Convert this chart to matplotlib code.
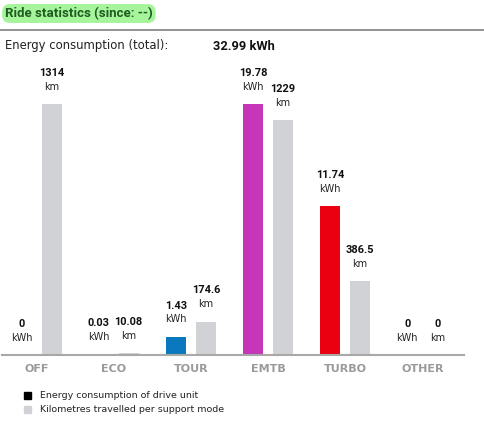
import matplotlib
matplotlib.use("Agg")
import matplotlib.pyplot as plt
from matplotlib.patches import Rectangle

categories = ["OFF", "ECO", "TOUR", "EMTB", "TURBO", "OTHER"]
energy_kwh = [0, 0.03, 1.43, 19.78, 11.74, 0]
distance_km = [1314, 10.08, 174.6, 1229, 386.5, 0]
energy_labels = ["0", "0.03", "1.43", "19.78", "11.74", "0"]
distance_labels = ["1314", "10.08", "174.6", "1229", "386.5", "0"]
energy_colors = ["#3c3c3c", "#5fa394", "#0a78be", "#c536b8", "#eb0010", "#808080"]
km_color = "#d0d2d5"
total_energy = "32.99 kWh"

BOLD = ["Roboto", "DejaVu Sans"]
REG = ["DejaVu Sans"]

W, H = 484, 428
fig = plt.figure(figsize=(W / 100, H / 100), dpi=100)
fig.patch.set_facecolor("white")

def fx(px):
    return px / W

def fy(py):
    return 1 - py / H

# header
fig.text(fx(5), fy(13.5), "Ride statistics (since: --)", fontsize=9.5, fontweight="bold",
         family=BOLD, color="#1f5c1f", va="center", ha="left",
         bbox=dict(boxstyle="round,pad=0.22,rounding_size=0.6", fc="#a6f59c", ec="none"))
fig.add_artist(plt.Line2D([0, 1], [fy(29.5), fy(29.5)], color="#8a8a8a", lw=1.3))
fig.text(fx(5), fy(46), "Energy consumption (total):", fontsize=8.4, family=REG,
         color="#222222", va="center")
fig.text(fx(213), fy(46), total_energy, fontsize=9.3, fontweight="bold", family=BOLD,
         color="#111111", va="center")

# bars axes
base_px = 355
top_px = 60
step = 77.16
first_center = 36.5
left_px, right_px = 2, 464
ax = fig.add_axes([fx(left_px), fy(base_px), (right_px - left_px) / W, (base_px - top_px) / H])
xmin = -(first_center - left_px) / step
xmax = xmin + (right_px - left_px) / step
ax.set_xlim(xmin, xmax)
ax.set_ylim(0, (base_px - top_px) / 251)

bw = 20 / step
off = 15 / step
emax = max(energy_kwh)
kmax = max(distance_km)
xs = list(range(len(categories)))
e_h = [v / emax for v in energy_kwh]
k_h = [v / kmax for v in distance_km]
ax.bar([x - off for x in xs], e_h, width=bw, color=energy_colors, zorder=2)
ax.bar([x + off for x in xs], k_h, width=bw, color=km_color, zorder=2)

for x, h, lab in zip(xs, e_h, energy_labels):
    ax.annotate(lab, (x - off, h), xytext=(0, 22.5), textcoords="offset points",
                ha="center", va="center", fontsize=7.9, fontweight="bold", family=BOLD,
                color="#111111")
    ax.annotate("kWh", (x - off, h), xytext=(0, 12.5), textcoords="offset points",
                ha="center", va="center", fontsize=7, family=REG, color="#222222")
for x, h, lab in zip(xs, k_h, distance_labels):
    ax.annotate(lab, (x + off, h), xytext=(0, 22.5), textcoords="offset points",
                ha="center", va="center", fontsize=7.9, fontweight="bold", family=BOLD,
                color="#111111")
    ax.annotate("km", (x + off, h), xytext=(0, 12.5), textcoords="offset points",
                ha="center", va="center", fontsize=7, family=REG, color="#222222")

for s in ["top", "right", "left"]:
    ax.spines[s].set_visible(False)
ax.spines["bottom"].set_color("#a8a8a8")
ax.spines["bottom"].set_linewidth(1.5)
ax.set_yticks([])
ax.set_xticks(xs)
ax.set_xticklabels(categories, fontsize=8, fontweight="bold", family=REG, color="#9a9a9a")
ax.tick_params(axis="x", length=0, pad=6.5)
ax.set_facecolor("none")

# legend
for py, col, txt in [(395, "#000000", "Energy consumption of drive unit"),
                     (409, "#d0d2d5", "Kilometres travelled per support mode")]:
    fig.add_artist(Rectangle((fx(23.5), fy(py + 3.5)), 7 / W, 7 / H, color=col,
                             transform=fig.transFigure))
    fig.text(fx(40), fy(py), txt, fontsize=6.8, family=REG, color="#222222", va="center")

fig.savefig("out.png", dpi=100)
